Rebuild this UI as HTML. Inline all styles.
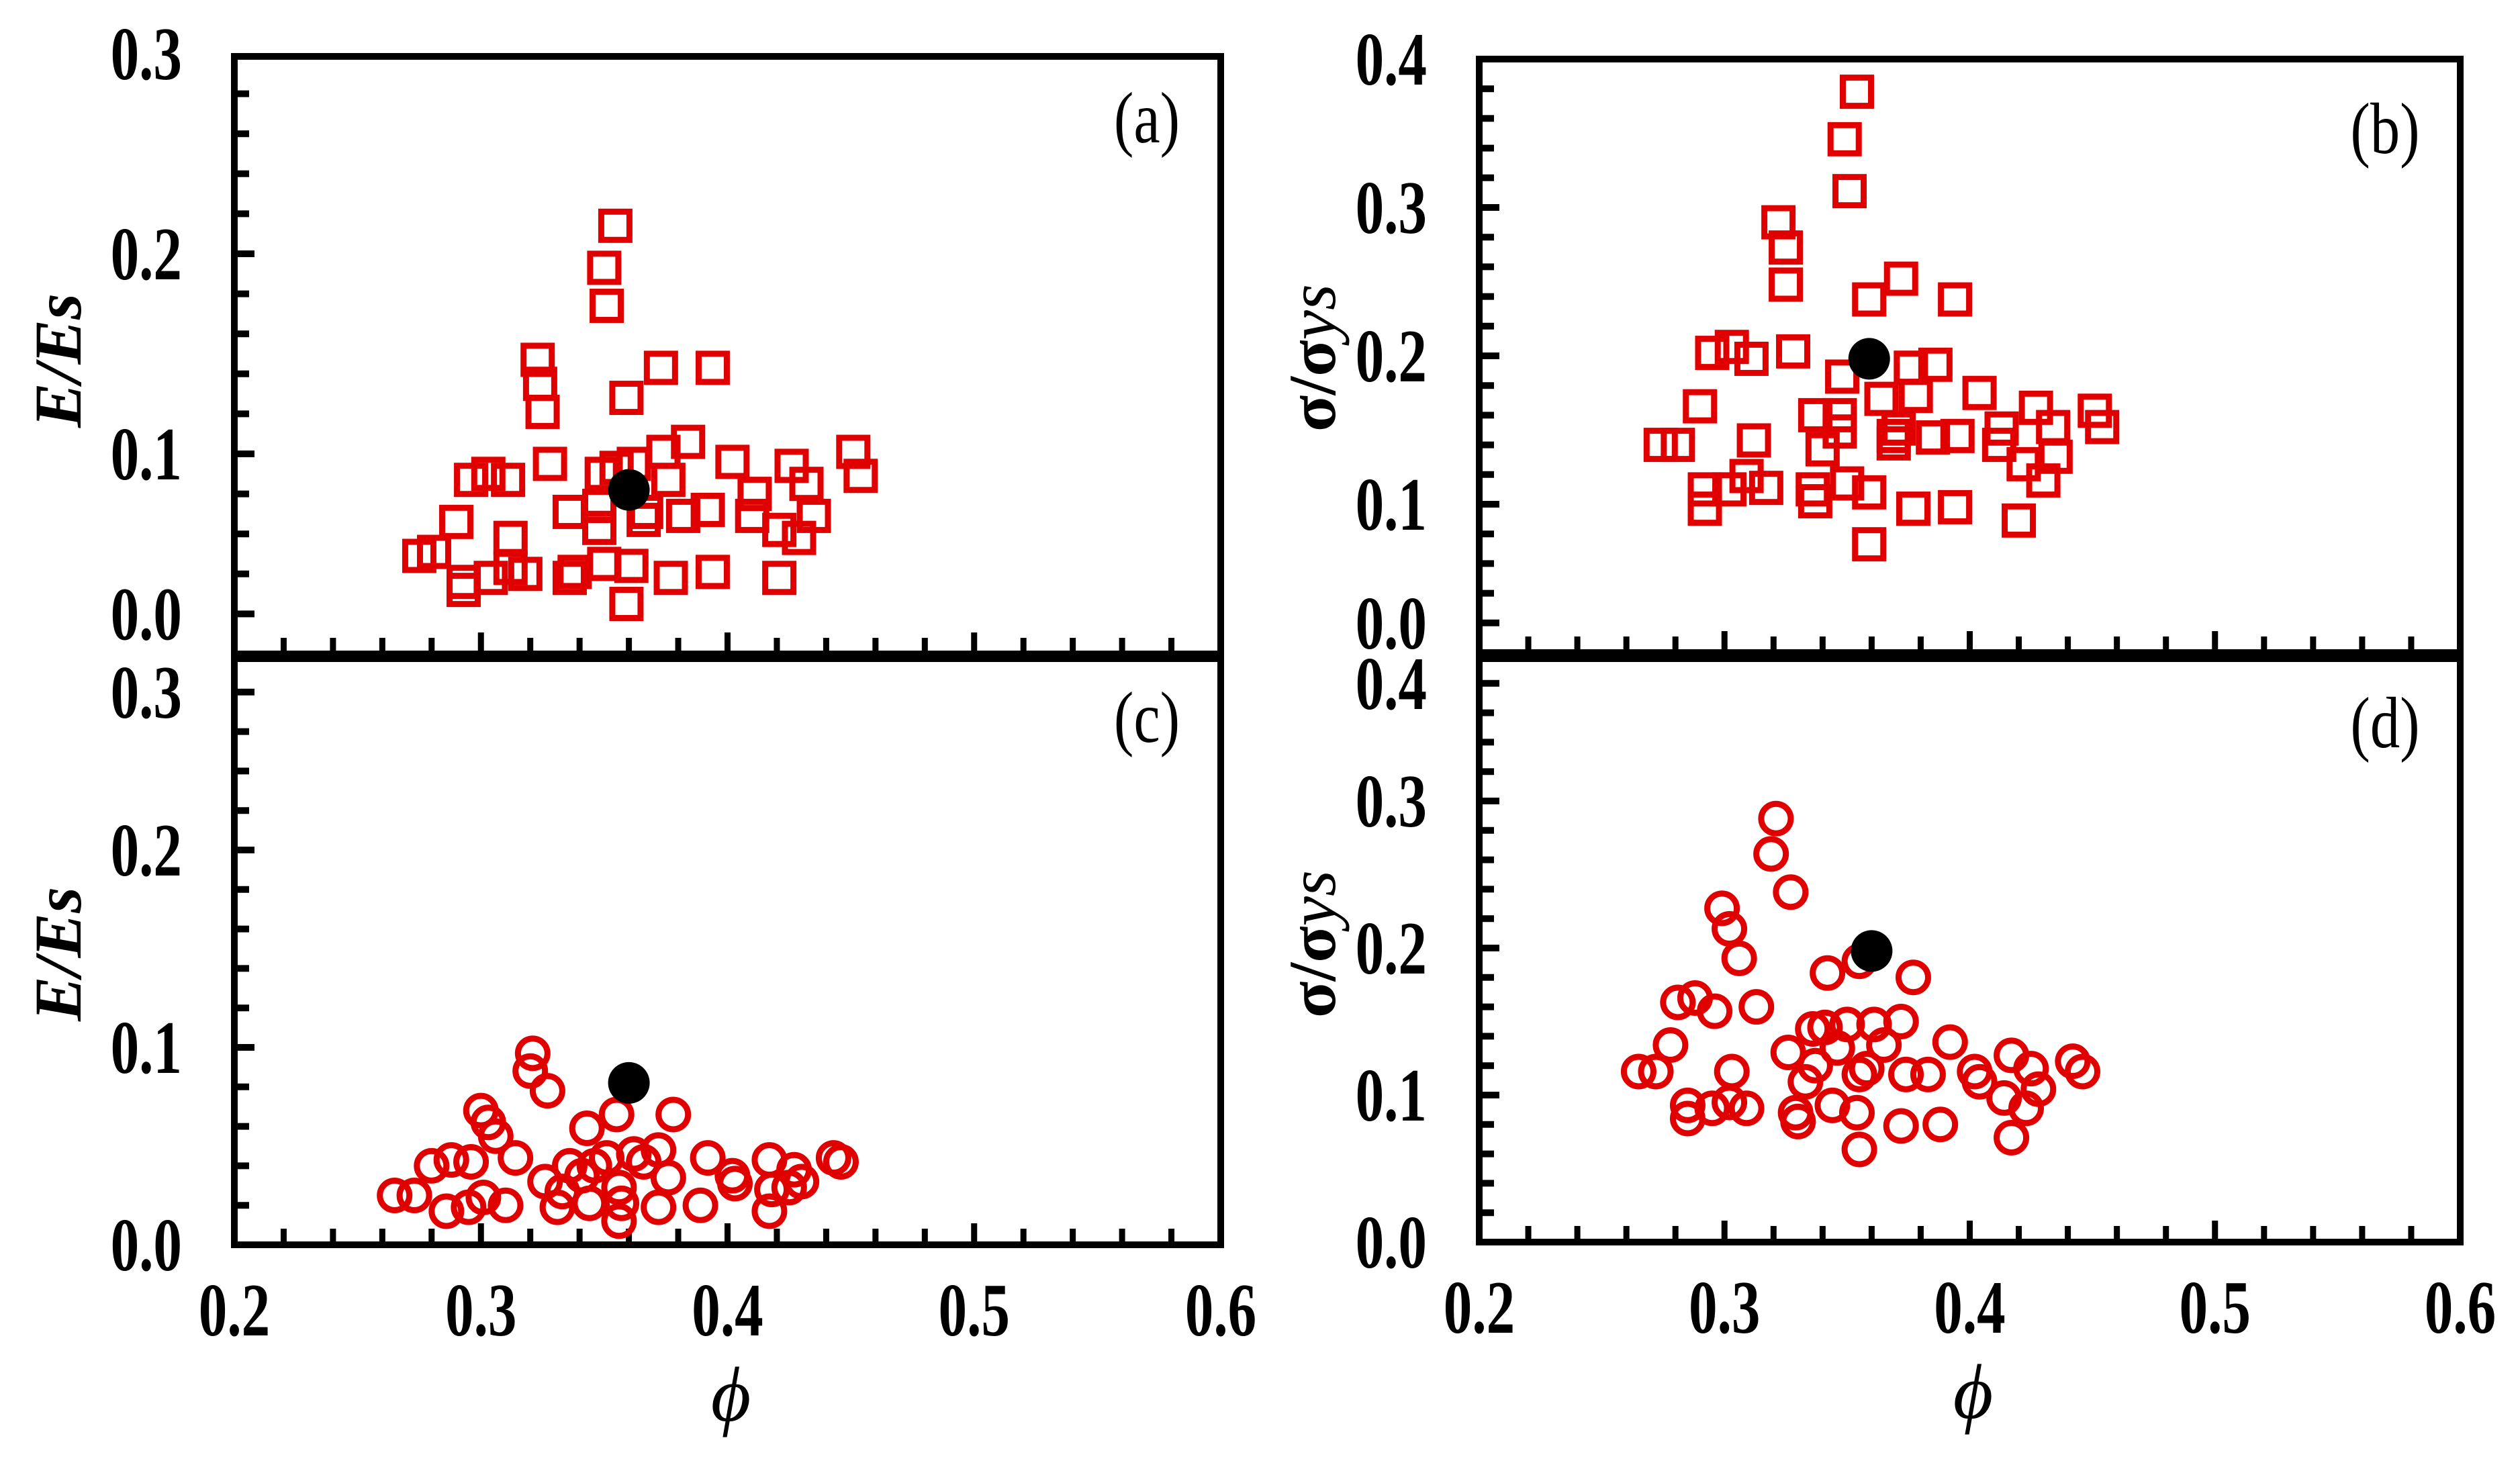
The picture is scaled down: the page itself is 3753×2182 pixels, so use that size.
<!DOCTYPE html>
<html><head><meta charset="utf-8"><style>
html,body{margin:0;padding:0;background:#fff;}
svg{display:block;}
text{font-family:"Liberation Serif","DejaVu Serif",serif;}
</style></head>
<body>
<svg id="fig" width="3753" height="2182" viewBox="0 0 3753 2182" xmlns="http://www.w3.org/2000/svg"></svg>
<script>
// ---- Panel (a): E/Es vs phi (squares)
const aX = [0.3545,0.350,0.351,0.323,0.324,0.325,0.359,0.373,0.394,0.328,0.296,0.303,0.311,0.290,0.275,0.281,0.312,0.293,0.293,0.304,0.312,0.318,0.336,0.338,0.350,0.361,0.359,0.377,0.394,0.421,0.336,0.348,0.348,0.349,0.355,0.366,0.367,0.362,0.374,0.384,0.376,0.382,0.392,0.402,0.410,0.411,0.421,0.429,0.426,0.432,0.435,0.451,0.454];
const aY = [0.214,0.193,0.174,0.147,0.135,0.121,0.128,0.143,0.143,0.095,0.087,0.090,0.087,0.066,0.049,0.051,0.058,0.036,0.032,0.038,0.043,0.040,0.038,0.041,0.045,0.044,0.025,0.038,0.041,0.038,0.071,0.074,0.063,0.090,0.093,0.067,0.071,0.095,0.101,0.106,0.087,0.069,0.072,0.096,0.069,0.080,0.062,0.058,0.094,0.085,0.069,0.101,0.089];
const aRef = [0.360,0.082];
// ---- Panel (b): sigma/sigma_ys vs phi (squares)
const bX = [0.354,0.349,0.351,0.322,0.325,0.325,0.359,0.372,0.394,0.295,0.303,0.311,0.328,0.290,0.274,0.281,0.312,0.292,0.292,0.302,0.309,0.317,0.336,0.337,0.350,0.359,0.359,0.377,0.394,0.420,0.337,0.347,0.347,0.348,0.340,0.364,0.369,0.371,0.369,0.376,0.386,0.378,0.385,0.395,0.404,0.412,0.413,0.422,0.430,0.427,0.434,0.435,0.451,0.454];
const bY = [0.378,0.346,0.311,0.290,0.273,0.248,0.238,0.252,0.238,0.202,0.206,0.198,0.203,0.166,0.140,0.140,0.143,0.110,0.097,0.110,0.119,0.111,0.110,0.102,0.114,0.108,0.073,0.097,0.098,0.089,0.160,0.160,0.149,0.186,0.137,0.171,0.146,0.151,0.141,0.192,0.194,0.173,0.145,0.146,0.175,0.140,0.151,0.127,0.116,0.165,0.152,0.132,0.163,0.152];
const bRef = [0.359,0.198];
// ---- Panel (c): E/Es vs phi (circles)
const cX = [0.321,0.320,0.327,0.300,0.303,0.306,0.314,0.343,0.355,0.378,0.265,0.273,0.280,0.288,0.296,0.286,0.295,0.301,0.310,0.326,0.331,0.333,0.336,0.341,0.346,0.344,0.351,0.356,0.356,0.357,0.362,0.366,0.372,0.372,0.376,0.389,0.392,0.402,0.403,0.417,0.417,0.418,0.425,0.427,0.430,0.443,0.446];
const cY = [0.097,0.088,0.078,0.068,0.062,0.055,0.044,0.059,0.066,0.066,0.025,0.025,0.040,0.043,0.042,0.017,0.019,0.024,0.020,0.032,0.019,0.027,0.040,0.035,0.040,0.021,0.044,0.029,0.012,0.021,0.046,0.042,0.048,0.019,0.034,0.020,0.044,0.035,0.031,0.043,0.017,0.028,0.029,0.038,0.032,0.044,0.042];
const cRef = [0.360,0.082];
// ---- Panel (d): sigma/sigma_ys vs phi (circles)
const dX = [0.321,0.319,0.327,0.299,0.302,0.306,0.313,0.342,0.355,0.377,0.265,0.272,0.278,0.281,0.288,0.296,0.303,0.285,0.285,0.295,0.302,0.309,0.326,0.329,0.330,0.333,0.336,0.337,0.341,0.346,0.350,0.344,0.354,0.355,0.355,0.358,0.361,0.365,0.372,0.372,0.374,0.383,0.388,0.392,0.402,0.404,0.417,0.414,0.417,0.423,0.425,0.428,0.442,0.446];
const dY = [0.288,0.264,0.238,0.227,0.213,0.193,0.160,0.183,0.191,0.180,0.116,0.116,0.134,0.163,0.166,0.157,0.116,0.093,0.084,0.091,0.095,0.091,0.129,0.088,0.082,0.109,0.145,0.120,0.146,0.132,0.148,0.093,0.088,0.063,0.114,0.118,0.148,0.134,0.150,0.079,0.114,0.114,0.080,0.136,0.116,0.109,0.127,0.098,0.071,0.091,0.118,0.104,0.123,0.116];
const dRef = [0.360,0.198];
// ---- Axis ticks
const xTickVals = [0.2,0.3,0.4,0.5,0.6];
const xTickText = ["0.2","0.3","0.4","0.5","0.6"];
const aTickVals = [0.02,0.1,0.2,0.3];
const aTickText = ["0.0","0.1","0.2","0.3"];
const bTickVals = [0.02,0.1,0.2,0.3,0.4];
const bTickText = ["0.0","0.1","0.2","0.3","0.4"];
const cTickVals = [0,0.1,0.2,0.28];
const cTickText = ["0.0","0.1","0.2","0.3"];
const dTickVals = [0,0.1,0.2,0.3,0.38];
const dTickText = ["0.0","0.1","0.2","0.3","0.4"];

const NS = "http://www.w3.org/2000/svg";
const svg = document.getElementById('fig');
function mk(tag, attrs, parent){
  const e = document.createElementNS(NS, tag);
  for (const k in attrs) e.setAttribute(k, attrs[k]);
  (parent||svg).appendChild(e);
  return e;
}

function panel(id, L, R, T, B, yPerUnit, xs, ys, ref, shape, tickVals, tickText, yMax, showX, label, labelPos, ytitle){
  const g = mk('g', {});
  
  
  const xs_ = v => L + (v - 0.2) / 0.4 * (R - L);
  const ys_ = v => B - v * yPerUnit;
  for (let i = 0; i * 0.02 <= yMax + 1e-9; i++) {
    const v = i * 0.02;
    const y = ys_(v);
    if (y < T + 10 || y > B - 20) continue;
    const major = tickVals.some(t => Math.abs(t - v) < 1e-6);
    const t = mk('line', {x1: L, x2: L + (major ? 30 : 22), y1: y, y2: y, stroke: '#000', 'stroke-width': 10}, g);
    
    
  }
  tickVals.forEach((v, i) => {
    const t = mk('text', {x: 0, y: 0, 'text-anchor': 'end', 'font-size': 112, 'font-weight': 'bold', transform: 'translate(' + (L - 78) + ',' + (ys_(v) + 38) + ') scale(0.76,1)'}, g);
    t.textContent = tickText[i];
    
    
  });
  for (let i = 1; i < 20; i++) {
    const v = 0.2 + i * 0.02;
    const x = xs_(v);
    const major = i % 5 === 0;
    const t = mk('line', {x1: x, x2: x, y1: B, y2: B - (major ? 32 : 24), stroke: '#000', 'stroke-width': 9}, g);
    
    
  }
  if (showX) {
    xTickVals.forEach((v, i) => {
      const t = mk('text', {x: 0, y: 0, 'text-anchor': 'middle', 'font-size': 112, 'font-weight': 'bold', transform: 'translate(' + xs_(v) + ',' + (B + 135) + ') scale(0.76,1)'}, g);
      t.textContent = xTickText[i];
      
      
    });
    const p = mk('text', {x: (L + R) / 2 + 5, y: B + 262, 'text-anchor': 'middle', 'font-size': 115, 'font-style': 'italic'}, g);
    p.textContent = 'ϕ';
    
    
  }
  xs.forEach((xv, i) => {
    const cx = xs_(xv), cy = ys_(ys[i]);
    let m;
    if (shape === 'sq') m = mk('rect', {x: cx - 21, y: cy - 21, width: 42, height: 42, fill: 'none', stroke: '#e00000', 'stroke-width': 9}, g);
    else m = mk('circle', {cx: cx, cy: cy, r: 22, fill: 'none', stroke: '#e00000', 'stroke-width': 9}, g);
    
    
  });
  const r = mk('circle', {cx: xs_(ref[0]), cy: ys_(ref[1]), r: 31, fill: '#000'}, g);
  
  
  const f = mk('rect', {x: L, y: T, width: R - L, height: B - T, fill: 'none', stroke: '#000', 'stroke-width': 10}, g);
  
  
  const lb = mk('text', {x: 0, y: 0, 'text-anchor': 'middle', 'font-size': 108, transform: 'translate(' + labelPos[0] + ',' + labelPos[1] + ') scale(0.82,1)'}, g);
  lb.textContent = label;
  
  
  const yt = mk('text', {x: 0, y: 0, 'text-anchor': 'middle', 'font-size': 100, 'font-weight': 'bold', transform: 'translate(' + ytitle[0] + ',' + ytitle[1] + ') rotate(-90)'}, g);
  
  
  if (ytitle[2] === 'E') {
    yt.setAttribute('font-style', 'italic');
    yt.textContent = 'E/Es';
  } else {
    const t1 = mk('tspan', {}, yt); t1.textContent = 'σ/σ';
    const t2 = mk('tspan', {'font-style': 'italic', 'font-weight': 'normal'}, yt); t2.textContent = 'ys';
  }
}

panel('a', 349, 1818, 84, 974, 2980, aX, aY, aRef, 'sq', aTickVals, aTickText, 0.3, false, '(a)', [1708, 212], [120, 537, 'E']);
panel('b', 2203, 3664, 88, 972, 2210, bX, bY, bRef, 'sq', bTickVals, bTickText, 0.4, false, '(b)', [3552, 228], [1988, 533, 'S']);
panel('c', 349, 1818, 981, 1854, 2940, cX, cY, cRef, 'ci', cTickVals, cTickText, 0.3, true, '(c)', [1708, 1105], [120, 1421, 'E']);
panel('d', 2203, 3664, 981, 1850, 2190, dX, dY, dRef, 'ci', dTickVals, dTickText, 0.4, true, '(d)', [3552, 1113], [1988, 1406, 'S']);
</script>
</body></html>
